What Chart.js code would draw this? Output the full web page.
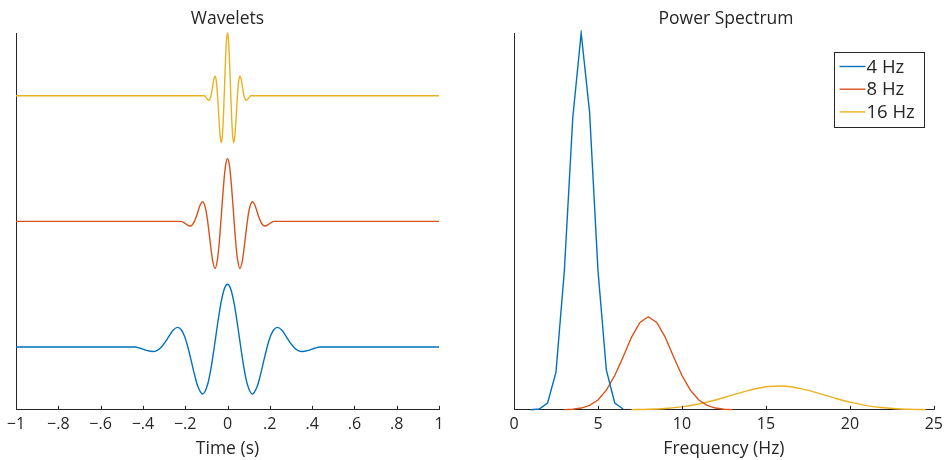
<!DOCTYPE html>
<html>
<head>
<meta charset="utf-8">
<script src="https://cdn.jsdelivr.net/npm/chart.js@4.4.1/dist/chart.umd.min.js"></script>
<style>
  body { margin: 0; background: #fff; }
  #wrap { position: relative; width: 948px; height: 460px; }
  canvas { position: absolute; top: 0; }
  #waveChart { left: 0; }
  #specChart { left: 474px; }
</style>
</head>
<body>
<div id="wrap">
  <canvas id="waveChart" width="474" height="460"></canvas>
  <canvas id="specChart" width="474" height="460"></canvas>
</div>
<script>
// Etiquetas y colores de cada wavelet
const waveLabels = ["4 Hz", "8 Hz", "16 Hz"];
const waveColors = ["#0072BD", "#D95319", "#EDB120"];
const waveOffsets = [0.5, 1.5, 2.5]; // desplazamiento vertical de cada traza

// Tiempos (s) de cada wavelet
const time4 = [-1, -0.4375, -0.4125, -0.3875, -0.3531, -0.3344, -0.3125, -0.2906, -0.2719, -0.2563, -0.2359, -0.2188,
  -0.2031, -0.1875, -0.1719, -0.1563, -0.1406, -0.1172, -0.0938, -0.0781, -0.0625, -0.0469, -0.0313, -0.0156, 0,
  0.0156, 0.0313, 0.0469, 0.0625, 0.0781, 0.0938, 0.1172, 0.1406, 0.1563, 0.1719, 0.1875, 0.2031, 0.2188, 0.2359,
  0.2563, 0.2719, 0.2906, 0.3125, 0.3344, 0.3531, 0.3875, 0.4125, 0.4375, 1];
const time8 = [-1, -0.2188, -0.2063, -0.1938, -0.1766, -0.1672, -0.1563, -0.1453, -0.1359, -0.1281, -0.118, -0.1094,
  -0.1016, -0.0938, -0.0859, -0.0781, -0.0703, -0.0586, -0.0469, -0.0391, -0.0313, -0.0234, -0.0156, -0.0078, 0,
  0.0078, 0.0156, 0.0234, 0.0313, 0.0391, 0.0469, 0.0586, 0.0703, 0.0781, 0.0859, 0.0938, 0.1016, 0.1094, 0.118,
  0.1281, 0.1359, 0.1453, 0.1563, 0.1672, 0.1766, 0.1938, 0.2063, 0.2188, 1];
const time16 = [-1, -0.1094, -0.1031, -0.0969, -0.0883, -0.0836, -0.0781, -0.0727, -0.068, -0.0641, -0.059, -0.0547,
  -0.0508, -0.0469, -0.043, -0.0391, -0.0352, -0.0293, -0.0234, -0.0195, -0.0156, -0.0117, -0.0078, -0.0039, 0,
  0.0039, 0.0078, 0.0117, 0.0156, 0.0195, 0.0234, 0.0293, 0.0352, 0.0391, 0.043, 0.0469, 0.0508, 0.0547, 0.059,
  0.0641, 0.068, 0.0727, 0.0781, 0.0836, 0.0883, 0.0969, 0.1031, 0.1094, 1];
// Amplitud (parte real), la misma forma para las tres
const waveShape = [0, 0, -0.01, -0.0245, -0.0364, -0.0287, 0, 0.049, 0.099, 0.135, 0.156, 0.1375,
  0.085, 0, -0.107, -0.218, -0.313, -0.3745, -0.297, -0.17, 0, 0.183, 0.347, 0.46, 0.5,
  0.46, 0.347, 0.183, 0, -0.17, -0.297, -0.3745, -0.313, -0.218, -0.107, 0, 0.085, 0.1375, 0.156,
  0.135, 0.099, 0.049, 0, -0.0287, -0.0364, -0.0245, -0.01, 0, 0];

// Espectro de potencia (normalizado al pico de 4 Hz)
const freq4 = [1, 1.5, 2, 2.5, 3, 3.5, 4, 4.5, 5, 5.5, 6, 6.5];
const power4 = [0, 0.002, 0.018, 0.1, 0.37, 0.775, 1, 0.79, 0.37, 0.105, 0.018, 0.002];
const freq8 = [3, 3.5, 4, 4.5, 5, 5.5, 6, 6.5, 7, 7.5, 8, 8.5, 9, 9.5, 10, 10.5, 11, 11.5, 12, 12.5, 13];
const power8 = [0.0005, 0.0016, 0.0046, 0.0117, 0.026, 0.052, 0.091, 0.141, 0.193, 0.232, 0.247, 0.232,
  0.193, 0.141, 0.091, 0.052, 0.026, 0.0117, 0.0046, 0.0016, 0.0005];
const freq16 = [7, 8, 9, 10, 11, 12, 13, 14, 15, 16, 17, 18, 19, 20, 21, 22, 23, 24, 24.5];
const power16 = [0.0005, 0.0015, 0.0036, 0.0079, 0.0153, 0.026, 0.039, 0.0516, 0.061, 0.063, 0.0567, 0.0456,
  0.0323, 0.0202, 0.0112, 0.0054, 0.0023, 0.0009, 0.0005];

// Etiquetas de los ejes X
const timeTicks = ["\u22121", "\u2212.8", "\u2212.6", "\u2212.4", "\u2212.2", "0", ".2", ".4", ".6", ".8", "1"];
const freqTicks = ["0", "5", "10", "15", "20", "25"];

const axisColor = "#262626";
const fontFam = "'Open Sans', 'Noto Sans', sans-serif";

// Marcas de los ticks hacia dentro del eje
const insideTicks = {
  id: "insideTicks",
  afterDatasetsDraw(chart) {
    const ctx = chart.ctx;
    const xs = chart.scales.x;
    const area = chart.chartArea;
    ctx.save();
    ctx.strokeStyle = axisColor;
    ctx.lineWidth = 1;
    xs.ticks.forEach((t, i) => {
      const px = Math.round(xs.getPixelForTick(i)) + 0.5;
      ctx.beginPath();
      ctx.moveTo(px, area.bottom);
      ctx.lineTo(px, area.bottom - 4);
      ctx.stroke();
    });
    ctx.restore();
  },
};

// Leyenda con recuadro dentro del área del gráfico
const boxLegend = {
  id: "boxLegend",
  afterDraw(chart) {
    const ctx = chart.ctx;
    const area = chart.chartArea;
    const w = 90, h = 75;
    const x0 = Math.round(area.right - 10 - w) + 0.5;
    const y0 = Math.round(area.top + 19) + 0.5;
    ctx.save();
    ctx.fillStyle = "#fff";
    ctx.fillRect(x0, y0, w, h);
    ctx.strokeStyle = axisColor;
    ctx.lineWidth = 1;
    ctx.strokeRect(x0, y0, w, h);
    ctx.font = "18.5px " + fontFam;
    ctx.textBaseline = "middle";
    chart.data.datasets.forEach((ds, i) => {
      const y = y0 + 14 + i * 22.7;
      ctx.strokeStyle = ds.borderColor;
      ctx.lineWidth = 1.4;
      ctx.beginPath();
      ctx.moveTo(x0 + 5, y);
      ctx.lineTo(x0 + 31, y);
      ctx.stroke();
      ctx.fillStyle = axisColor;
      ctx.fillText(ds.label, x0 + 32, y + 1);
    });
    ctx.restore();
  },
};

function baseOptions(title, xTitle, xMin, xMax, step, tickLabels, yMax, pad) {
  return {
    responsive: false,
    animation: false,
    devicePixelRatio: 1,
    layout: { padding: pad },
    plugins: {
      legend: { display: false },
      tooltip: { enabled: false },
      title: {
        display: true,
        text: title,
        color: axisColor,
        font: { family: fontFam, size: 17.5, weight: "normal" },
        padding: { top: 9, bottom: 3 },
      },
    },
    elements: { point: { radius: 0 } },
    scales: {
      x: {
        type: "linear",
        min: xMin,
        max: xMax,
        grid: { display: false, drawTicks: false },
        border: { display: true, color: axisColor, width: 1 },
        ticks: {
          stepSize: step,
          autoSkip: false,
          maxRotation: 0,
          padding: 5,
          color: axisColor,
          font: { family: fontFam, size: 16 },
          callback: (v, i) => tickLabels[i],
        },
        title: {
          display: true,
          text: xTitle,
          color: axisColor,
          font: { family: fontFam, size: 17.5 },
          padding: { top: 0, bottom: 0 },
        },
      },
      y: {
        min: 0,
        max: yMax,
        grid: { display: false, drawTicks: false },
        border: { display: true, color: axisColor, width: 1 },
        ticks: { display: false },
      },
    },
  };
}

// Gráfico de las wavelets desplazadas
const waveTimes = [time4, time8, time16];
const waveDatasets = waveTimes.map((tt, i) => ({
  label: waveLabels[i],
  data: tt.map((t, j) => ({ x: t, y: waveShape[j] + waveOffsets[i] })),
  borderColor: waveColors[i],
  borderWidth: 1.4,
  cubicInterpolationMode: "monotone",
  clip: 3,
}));

new Chart(document.getElementById("waveChart"), {
  type: "line",
  data: { datasets: waveDatasets },
  options: baseOptions("Wavelets", "Time (s)", -1, 1, 0.2, timeTicks, 3,
    { left: 16, right: 35, top: 0, bottom: 0 }),
  plugins: [insideTicks],
});

// Gráfico del espectro de potencia
const specFreqs = [freq4, freq8, freq16];
const specPowers = [power4, power8, power16];
const specDatasets = specFreqs.map((ff, i) => ({
  label: waveLabels[i],
  data: ff.map((f, j) => ({ x: f, y: specPowers[i][j] })),
  borderColor: waveColors[i],
  borderWidth: 1.4,
  tension: 0,
  cubicInterpolationMode: i === 2 ? "monotone" : "default",
  clip: 3,
}));

new Chart(document.getElementById("specChart"), {
  type: "line",
  data: { datasets: specDatasets },
  options: baseOptions("Power Spectrum", "Frequency (Hz)", 0, 25, 5, freqTicks, 1,
    { left: 40, right: 10, top: 0, bottom: 0 }),
  plugins: [insideTicks, boxLegend],
});
</script>
</body>
</html>
